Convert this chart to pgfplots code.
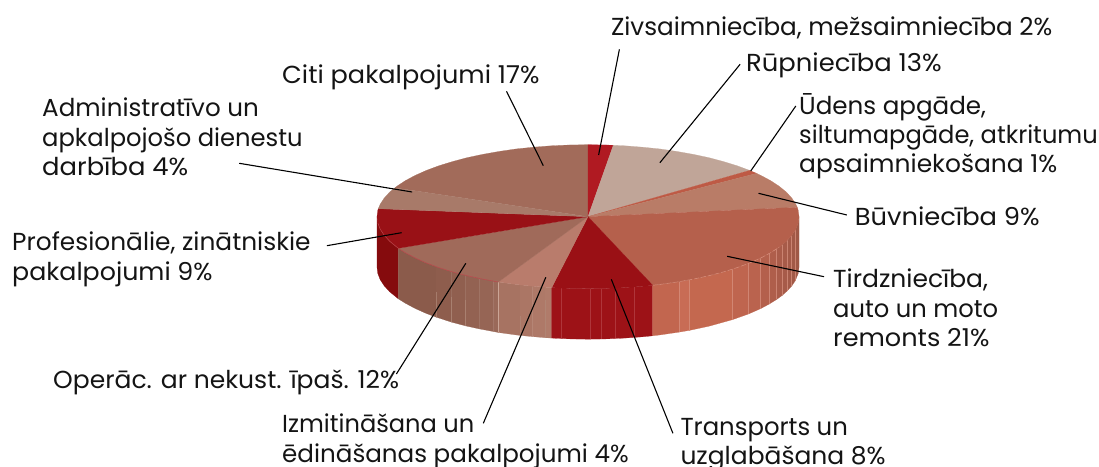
\documentclass[border=0pt]{standalone}
\usepackage{graphicx}
\usepackage{pgfplots}
\pgfplotsset{compat=1.18}
\usepackage{fontspec}
\setmainfont{Poppins}
\definecolor{cZivs}{HTML}{B01A22}
\definecolor{cRup}{HTML}{C0A598}
\definecolor{cUd}{HTML}{BE5A45}
\definecolor{cBuv}{HTML}{B97C67}
\definecolor{cTird}{HTML}{B5604C}
\definecolor{cTrans}{HTML}{9A1015}
\definecolor{cIzm}{HTML}{B97C6C}
\definecolor{cOp}{HTML}{A06A5A}
\definecolor{cProf}{HTML}{991116}
\definecolor{cAdm}{HTML}{A87A69}
\definecolor{cCiti}{HTML}{A26B5A}
\definecolor{sProf}{HTML}{850B0D}
\definecolor{sTrans}{HTML}{9D1217}
\definecolor{oa}{HTML}{8B5B4B}\definecolor{ob}{HTML}{8E5D4D}\definecolor{oc}{HTML}{905F4F}
\definecolor{od}{HTML}{936252}\definecolor{oe}{HTML}{966555}\definecolor{of}{HTML}{9A6959}
\definecolor{ia}{HTML}{A77362}\definecolor{ib}{HTML}{AB7665}\definecolor{ic}{HTML}{AE7968}\definecolor{id}{HTML}{B07B6A}
\definecolor{ta}{HTML}{C2664F}\definecolor{tb}{HTML}{C86C55}\definecolor{tc}{HTML}{C4684F}
\definecolor{td}{HTML}{BF654F}\definecolor{te}{HTML}{BA634E}\definecolor{tf}{HTML}{B4604C}
\definecolor{tg}{HTML}{AF5E4B}\definecolor{th}{HTML}{AA5C4A}\definecolor{ti}{HTML}{A75B49}
\definecolor{tj}{HTML}{A45A48}\definecolor{tk}{HTML}{A25947}\definecolor{tl}{HTML}{9F5846}
\definecolor{hlT}{HTML}{D88F7C}\definecolor{hlR}{HTML}{B8454A}\definecolor{hlO}{HTML}{B08878}\definecolor{hlW}{HTML}{D9B5A8}
\pgfplotsset{
 sec/.style={fill=#1,draw=#1,line width=0.2pt,forget plot},
 hl/.style={draw=#1,line width=0.45pt,opacity=0.7,forget plot},
 lead/.style={draw=black,line width=1.1pt,forget plot}
}
\tikzset{lab/.style={anchor=base west,inner sep=0pt,font=\fontsize{24.6bp}{28bp}\selectfont,text=black!92}}
\newcommand{\sx}[2]{\scalebox{#1}[1]{#2}}
\begin{document}
\begin{tikzpicture}[x=1bp,y=1bp]
\useasboundingbox (0,0) rectangle (1099,467);
\clip (0,0) rectangle (1099,467);
\begin{axis}[at={(0,0)},anchor=south west,scale only axis,width=1099bp,height=467bp,
 xmin=0,xmax=1099,ymin=0,ymax=467,y dir=reverse,hide axis,clip=false,no markers]
% side: Profesionalie
\addplot[sec=sProf] coordinates {(377,216.7)(377.8,223)(380.2,229.2)(384.2,235.3)(389.7,241.3)(396.8,247.1)(398.3,248.3)(398.3,298.8)(396.8,297.6)(389.7,291.8)(384.2,285.8)(380.2,279.7)(377.8,273.5)(377,267.2)} --cycle;
% side: Operac
\addplot[sec=oa] coordinates {(398.3,248.3)(405.3,252.7)(415.2,258)(426.4,263)(436,266.6)(436,317.1)(426.4,313.5)(415.2,308.5)(405.3,303.2)(398.3,298.8)} --cycle;
\addplot[sec=ob] coordinates {(436,266.6)(451.7,271.7)(451.7,322.2)(436,317.1)} --cycle;
\addplot[sec=oc] coordinates {(451.7,271.7)(465.7,275.4)(465.7,325.9)(451.7,322.2)} --cycle;
\addplot[sec=od] coordinates {(465.7,275.4)(479.3,278.4)(479.3,328.9)(465.7,325.9)} --cycle;
\addplot[sec=oe] coordinates {(479.3,278.4)(493.3,281)(493.3,331.5)(479.3,328.9)} --cycle;
\addplot[sec=of] coordinates {(493.3,281)(498.3,282)(498.3,332.5)(493.3,331.5)} --cycle;
% side: Izmitinasana
\addplot[sec=ia] coordinates {(498.3,282)(515.8,284.4)(520,284.9)(520,335.4)(515.8,334.9)(498.3,332.5)} --cycle;
\addplot[sec=ib] coordinates {(520,284.9)(532.3,286.1)(532.3,336.6)(520,335.4)} --cycle;
\addplot[sec=ic] coordinates {(532.3,286.1)(545,287.2)(545,337.7)(532.3,336.6)} --cycle;
\addplot[sec=id] coordinates {(545,287.2)(551.7,287.6)(551.7,338.1)(545,337.7)} --cycle;
% side: Transports
\addplot[sec=sTrans] coordinates {(551.7,287.6)(569.6,288.4)(588,288.7)(606.4,288.4)(624.6,287.6)(642.6,286.3)(652.7,285.3)(652.7,335.8)(642.6,336.8)(624.6,338.1)(606.4,338.9)(588,339.2)(569.6,338.9)(551.7,338.1)} --cycle;
% side: Tirdznieciba
\addplot[sec=ta] coordinates {(652.7,285.3)(660.2,284.4)(679.3,281.6)(679.3,332.1)(660.2,334.9)(652.7,335.8)} --cycle;
\addplot[sec=tb] coordinates {(679.3,281.6)(689.3,279.9)(689.3,330.4)(679.3,332.1)} --cycle;
\addplot[sec=tc] coordinates {(689.3,279.9)(709,275.7)(732.7,269.1)(732.7,319.6)(709,326.2)(689.3,330.4)} --cycle;
\addplot[sec=td] coordinates {(732.7,269.1)(748.7,263.4)(748.7,313.9)(732.7,319.6)} --cycle;
\addplot[sec=te] coordinates {(748.7,263.4)(760.7,258.1)(760.7,308.6)(748.7,313.9)} --cycle;
\addplot[sec=tf] coordinates {(760.7,258.1)(769.3,253.5)(769.3,304)(760.7,308.6)} --cycle;
\addplot[sec=tg] coordinates {(769.3,253.5)(776.7,248.9)(776.7,299.4)(769.3,304)} --cycle;
\addplot[sec=th] coordinates {(776.7,248.9)(782.3,244.8)(782.3,295.3)(776.7,299.4)} --cycle;
\addplot[sec=ti] coordinates {(782.3,244.8)(787.3,240.3)(787.3,290.8)(782.3,295.3)} --cycle;
\addplot[sec=tj] coordinates {(787.3,240.3)(791.7,235.5)(791.7,286)(787.3,290.8)} --cycle;
\addplot[sec=tk] coordinates {(791.7,235.5)(795.3,230.1)(795.3,280.6)(791.7,286)} --cycle;
\addplot[sec=tl] coordinates {(795.3,230.1)(798.2,223)(799,216.7)(799,267.2)(798.2,273.5)(795.3,280.6)} --cycle;
% hairlines on the side
\addplot[hl=hlT] coordinates {(679.3,281.6)(679.3,332.1)};
\addplot[hl=hlT] coordinates {(689.3,279.9)(689.3,330.4)};
\addplot[hl=hlT] coordinates {(732.7,269.1)(732.7,319.6)};
\addplot[hl=hlT] coordinates {(748.7,263.4)(748.7,313.9)};
\addplot[hl=hlT] coordinates {(760.7,258.1)(760.7,308.6)};
\addplot[hl=hlT] coordinates {(769.3,253.5)(769.3,304)};
\addplot[hl=hlT] coordinates {(776.7,248.9)(776.7,299.4)};
\addplot[hl=hlT] coordinates {(782.3,244.8)(782.3,295.3)};
\addplot[hl=hlT] coordinates {(787.3,240.3)(787.3,290.8)};
\addplot[hl=hlT] coordinates {(791.7,235.5)(791.7,286)};
\addplot[hl=hlT] coordinates {(795.3,230.1)(795.3,280.6)};
\addplot[hl=hlR] coordinates {(561,288)(561,338.5)};
\addplot[hl=hlR] coordinates {(590,288.7)(590,339.2)};
\addplot[hl=hlR] coordinates {(601,288.5)(601,339)};
\addplot[hl=hlR] coordinates {(615,288)(615,338.5)};
\addplot[hl=hlR] coordinates {(634.3,287)(634.3,337.5)};
\addplot[hl=hlO] coordinates {(436,292)(436,317.1)};
\addplot[hl=hlO] coordinates {(451.7,297)(451.7,322.2)};
\addplot[hl=hlO] coordinates {(465.7,300)(465.7,325.9)};
\addplot[hl=hlW] coordinates {(498.3,282)(498.3,332.5)};
\addplot[hl=hlO] coordinates {(520,316)(520,335.4)};
\addplot[hl=hlO] coordinates {(545,300)(545,337.7)};
% top face
\addplot[sec=cCiti] coordinates {(588,216.7)(395,187.8)(396.8,186.3)(405.3,180.7)(415.2,175.4)(426.4,170.4)(438.8,165.8)(452.4,161.6)(467,157.7)(482.5,154.4)(498.8,151.5)(515.8,149)(533.4,147.2)(551.4,145.8)(569.6,145)(588,144.7)} --cycle;
\addplot[sec=cZivs] coordinates {(588,216.7)(588,144.7)(606.4,145)(613.3,145.3)} --cycle;
\addplot[sec=cRup] coordinates {(588,216.7)(613.3,145.3)(624.6,145.8)(642.6,147.2)(660.2,149)(677.2,151.5)(693.5,154.4)(709,157.7)(723.6,161.6)(737.2,165.8)(749.6,170.4)} --cycle;
\addplot[sec=cUd] coordinates {(588,216.7)(749.6,170.4)(756.7,173.4)} --cycle;
\addplot[sec=cBuv] coordinates {(588,216.7)(756.7,173.4)(760.8,175.4)(770.7,180.7)(779.2,186.3)(786.3,192.1)(791.8,198.1)(795.8,204.2)(797.3,207.3)} --cycle;
\addplot[sec=cTird] coordinates {(588,216.7)(797.3,207.3)(798.2,210.4)(799,216.7)(798.2,223)(795.8,229.2)(791.8,235.3)(786.3,241.3)(779.2,247.1)(770.7,252.7)(760.8,258)(749.6,263)(737.2,267.6)(723.6,271.9)(709,275.7)(693.5,279.1)(677.2,282)(660.2,284.4)(652.7,285.3)} --cycle;
\addplot[sec=cTrans] coordinates {(588,216.7)(652.7,285.3)(642.6,286.3)(624.6,287.6)(606.4,288.4)(588,288.7)(569.6,288.4)(551.7,287.6)} --cycle;
\addplot[sec=cIzm] coordinates {(588,216.7)(551.7,287.6)(533.4,286.3)(515.8,284.4)(498.3,282)} --cycle;
\addplot[sec=cOp] coordinates {(588,216.7)(498.3,282)(482.5,279.1)(467,275.7)(452.4,271.9)(438.8,267.6)(426.4,263)(415.2,258)(405.3,252.7)(398.3,248.3)} --cycle;
\addplot[sec=cProf] coordinates {(588,216.7)(398.3,248.3)(396.8,247.1)(389.7,241.3)(384.2,235.3)(380.2,229.2)(377.8,223)(377,216.7)(377.8,210.4)(378.3,208.7)} --cycle;
\addplot[sec=cAdm] coordinates {(588,216.7)(378.3,208.7)(380.2,204.2)(384.2,198.1)(389.7,192.1)(395,187.8)} --cycle;
% rim accents
\addplot[draw=hlT,line width=0.5pt,dash pattern=on 5pt off 2pt,forget plot] coordinates {(652.7,285.3)(660.2,284.4)(677.2,282)(693.5,279.1)(709,275.7)(723.6,271.9)(737.2,267.6)(749.6,263)(760.8,258)(770.7,252.7)(779.2,247.1)};
\addplot[draw=hlR,line width=0.5pt,forget plot] coordinates {(498.3,282)(482.5,279.1)(467,275.7)(452.4,271.9)(438.8,267.6)(426.4,263)(415.2,258)(405.3,252.7)(398.3,248.3)(396.8,247.1)(389.7,241.3)(384.2,235.3)(380.2,229.2)(377.8,223)};
% leader lines
\addplot[lead] coordinates {(619.4,49.3)(598.6,155)};
\addplot[lead] coordinates {(740.1,64.3)(659.9,162.7)};
\addplot[lead] coordinates {(795.8,106)(750.7,171)};
\addplot[lead] coordinates {(846.8,215)(758.5,193.3)};
\addplot[lead] coordinates {(824,276.7)(727.1,256.3)};
\addplot[lead] coordinates {(672.9,433.3)(611.3,279.3)};
\addplot[lead] coordinates {(483.3,423.3)(545.8,277.3)};
\addplot[lead] coordinates {(396.4,374)(465.8,263.3)};
\addplot[lead] coordinates {(326.9,245.7)(401.6,232.7)};
\addplot[lead] coordinates {(239.2,163.3)(412.1,192)};
\addplot[lead] coordinates {(506.5,91.3)(543.3,165.7)};
% labels
\node[lab] at (axis cs:610.8,35.7) {\sx{1.003}{Zivsaimniecība, mežsaimniecība 2\%}};
\node[lab] at (axis cs:746,71.3) {\sx{1.05}{Rūpniecība 13\%}};
\node[lab] at (axis cs:799,114.7) {\sx{1.0}{Ūdens apgāde,}};
\node[lab] at (axis cs:799,143.3) {\sx{0.982}{siltumapgāde, atkritumu}};
\node[lab] at (axis cs:799,172.3) {\sx{1.014}{apsaimniekošana 1\%}};
\node[lab] at (axis cs:854.6,225.7) {\sx{1.047}{Būvniecība 9\%}};
\node[lab] at (axis cs:833,287.3) {\sx{1.015}{Tirdzniecība,}};
\node[lab] at (axis cs:833,317.7) {\sx{0.985}{auto un moto}};
\node[lab] at (axis cs:833,346.7) {\sx{1.04}{remonts 21\%}};
\node[lab] at (axis cs:680.3,435.3) {\sx{0.99}{Transports un}};
\node[lab] at (axis cs:680.3,464) {\sx{1.015}{uzglabāšana 8\%}};
\node[lab] at (axis cs:282,432.7) {\sx{0.98}{Izmitināšana un}};
\node[lab] at (axis cs:282,462.3) {\sx{1.0}{ēdināšanas pakalpojumi 4\%}};
\node[lab] at (axis cs:53,388.3) {\sx{1.017}{Operāc. ar nekust. īpaš. 12\%}};
\node[lab] at (axis cs:12,250.7) {\sx{1.01}{Profesionālie, zinātniskie}};
\node[lab] at (axis cs:12,281) {\sx{1.028}{pakalpojumi 9\%}};
\node[lab] at (axis cs:42,116.7) {\sx{1.0}{Administratīvo un}};
\node[lab] at (axis cs:42,146.7) {\sx{0.985}{apkalpojošo dienestu}};
\node[lab] at (axis cs:42,175.7) {\sx{1.05}{darbība 4\%}};
\node[lab] at (axis cs:282,83.3) {\sx{1.04}{Citi pakalpojumi 17\%}};
\end{axis}
\end{tikzpicture}
\end{document}
